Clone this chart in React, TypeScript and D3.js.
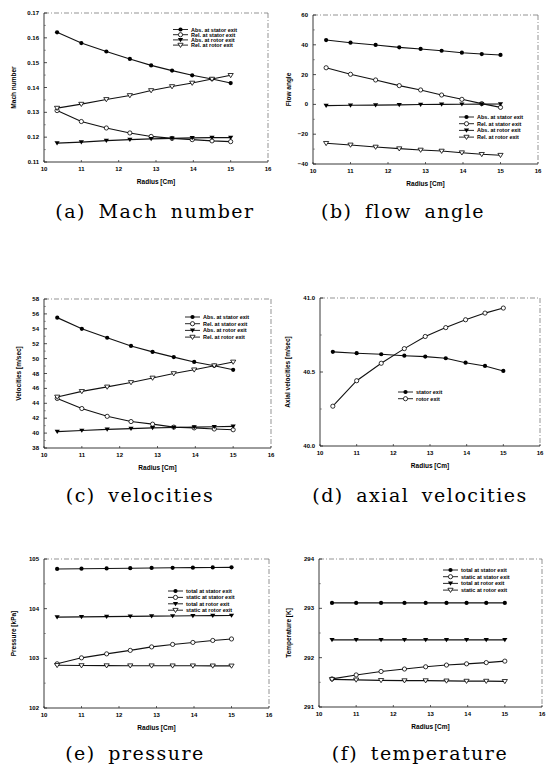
import React from 'react';
import * as d3 from 'd3';

// radial stations (same for every panel)
const radius = [10.35, 11.0, 11.67, 12.3, 12.87, 13.43, 13.97, 14.5, 15.0];
const radiusTicks = [10, 11, 12, 13, 14, 15, 16];

// (a) Mach number
const machAbsStator = [0.1622, 0.1579, 0.1545, 0.1515, 0.1489, 0.1468, 0.1449, 0.1434, 0.1418];
const machRelStator = [0.1307, 0.1263, 0.1237, 0.1217, 0.1203, 0.1195, 0.119, 0.1185, 0.1182];
const machAbsRotor = [0.1176, 0.118, 0.1186, 0.119, 0.1193, 0.1195, 0.1197, 0.1198, 0.1198];
const machRelRotor = [0.1317, 0.1333, 0.1352, 0.1368, 0.1388, 0.1404, 0.1418, 0.1434, 0.1449];

// (b) flow angle
const angleAbsStator = [43.2, 41.4, 39.9, 38.3, 37.2, 36.0, 34.7, 33.8, 33.2];
const angleRelStator = [24.6, 20.2, 16.4, 12.6, 9.7, 6.3, 3.4, 0.5, -2.0];
const angleAbsRotor = [-0.8, -0.6, -0.5, -0.3, -0.1, 0.0, 0.1, 0.2, 0.3];
const angleRelRotor = [-26.1, -27.2, -28.6, -29.7, -30.6, -31.3, -32.4, -33.5, -34.1];

// (c) velocities
const velAbsStator = [55.5, 54.0, 52.8, 51.7, 50.9, 50.2, 49.55, 49.05, 48.5];
const velRelStator = [44.65, 43.3, 42.25, 41.55, 41.2, 40.8, 40.7, 40.55, 40.45];
const velAbsRotor = [40.2, 40.35, 40.5, 40.6, 40.7, 40.75, 40.8, 40.85, 40.9];
const velRelRotor = [44.85, 45.6, 46.2, 46.8, 47.4, 48.0, 48.5, 49.05, 49.55];

// (d) axial velocities
const axialStator = [40.636, 40.627, 40.62, 40.61, 40.604, 40.593, 40.563, 40.541, 40.507];
const axialRotor = [40.269, 40.441, 40.559, 40.658, 40.74, 40.8, 40.853, 40.898, 40.932];

// (e) pressure
const presTotStator = [104.8, 104.805, 104.81, 104.815, 104.82, 104.823, 104.826, 104.83, 104.832];
const presStatStator = [102.89, 103.01, 103.09, 103.16, 103.23, 103.28, 103.32, 103.36, 103.39];
const presTotRotor = [103.83, 103.835, 103.84, 103.845, 103.85, 103.853, 103.856, 103.86, 103.862];
const presStatRotor = [102.86, 102.855, 102.853, 102.852, 102.851, 102.85, 102.85, 102.849, 102.848];

// (f) temperature
const tempTotStator = [293.11, 293.11, 293.11, 293.11, 293.11, 293.11, 293.11, 293.11, 293.11];
const tempStatStator = [291.57, 291.65, 291.72, 291.77, 291.815, 291.85, 291.875, 291.9, 291.93];
const tempTotRotor = [292.36, 292.36, 292.36, 292.36, 292.36, 292.36, 292.36, 292.36, 292.36];
const tempStatRotor = [291.56, 291.55, 291.54, 291.535, 291.535, 291.53, 291.525, 291.525, 291.52];

const velNames = ['Abs. at stator exit', 'Rel. at stator exit', 'Abs. at rotor exit', 'Rel. at rotor exit'];
const thermoNames = ['total at stator exit', 'static at stator exit', 'total at rotor exit', 'static at rotor exit'];
const axialNames = ['stator exit', 'rotor exit'];

type Marker = 'dot' | 'circle' | 'tri' | 'otri';
const markers: Marker[] = ['dot', 'circle', 'tri', 'otri'];
const axialMarkers: Marker[] = ['dot', 'circle'];

interface PanelProps {
  box: { left: number; right: number; top: number; bottom: number };
  yDomain: [number, number];
  yStep: number;
  yFmt: string;
  yLabel: string;
  yLabelX: number;
  series: number[][];
  names: string[];
  marks: Marker[];
  legend: { x: number; y: number; gap: number };
  caption: string;
  captionX: number;
  captionY: number;
}

const sans = 'Liberation Sans, Arial, sans-serif';

const Mark: React.FC<{ kind: Marker; x: number; y: number }> = ({ kind, x, y }) => {
  if (kind === 'dot') return <circle cx={x} cy={y} r={2.1} fill="#000" />;
  if (kind === 'circle') return <circle cx={x} cy={y} r={2.1} fill="#fff" stroke="#000" strokeWidth={0.8} />;
  const s = 2.6;
  const d = `M${x - s},${y - s * 0.7}L${x + s},${y - s * 0.7}L${x},${y + s * 0.9}Z`;
  return kind === 'tri'
    ? <path d={d} fill="#000" />
    : <path d={d} fill="#fff" stroke="#000" strokeWidth={0.8} />;
};

const Panel: React.FC<PanelProps> = (p) => {
  const { box } = p;
  const x = d3.scaleLinear().domain([10, 16]).range([box.left, box.right]);
  const y = d3.scaleLinear().domain(p.yDomain).range([box.bottom, box.top]);
  const yTicks = d3.range(p.yDomain[0], p.yDomain[1] + p.yStep / 2, p.yStep);
  const yMinor = d3.range(p.yDomain[0] + p.yStep / 2, p.yDomain[1], p.yStep);
  const fmt = d3.format(p.yFmt);
  const line = d3.line<[number, number]>().x(d => x(d[0])).y(d => y(d[1]));
  const midY = (box.top + box.bottom) / 2;

  return (
    <g>
      {/* frame: solid left/bottom, broken top/right like the scan */}
      <line x1={box.left} x2={box.right} y1={box.top} y2={box.top} stroke="#666" strokeWidth={0.7} strokeDasharray="5 2 1 2" />
      <line x1={box.right} x2={box.right} y1={box.top} y2={box.bottom} stroke="#666" strokeWidth={0.7} strokeDasharray="5 2 1 2" />
      <line x1={box.left} x2={box.right} y1={box.bottom} y2={box.bottom} stroke="#222" strokeWidth={0.9} />
      <line x1={box.left} x2={box.left} y1={box.top} y2={box.bottom} stroke="#222" strokeWidth={0.9} />

      {yTicks.map(t => (
        <g key={'y' + t}>
          <line x1={box.left} x2={box.left + 3} y1={y(t)} y2={y(t)} stroke="#222" strokeWidth={0.8} />
          <text x={box.left - 5} y={y(t) + 2} textAnchor="end" fontSize={6} fontWeight="bold" fontFamily={sans}>{fmt(t)}</text>
        </g>
      ))}
      {yMinor.map(t => (
        <line key={'m' + t} x1={box.left} x2={box.left + 1.8} y1={y(t)} y2={y(t)} stroke="#444" strokeWidth={0.6} />
      ))}
      {radiusTicks.map(t => (
        <g key={'x' + t}>
          <line x1={x(t)} x2={x(t)} y1={box.bottom} y2={box.bottom - 2} stroke="#222" strokeWidth={0.7} />
          <text x={x(t)} y={box.bottom + 9} textAnchor="middle" fontSize={6} fontWeight="bold" fontFamily={sans}>{t}</text>
        </g>
      ))}
      <text x={(box.left + box.right) / 2} y={box.bottom + 22} textAnchor="middle" fontSize={6.5} fontWeight="bold" fontFamily={sans}>Radius [Cm]</text>
      <text transform={`translate(${p.yLabelX},${midY}) rotate(-90)`} textAnchor="middle" fontSize={6.5} fontWeight="bold" fontFamily={sans}>{p.yLabel}</text>

      {p.series.map((s, i) => {
        const pts = s.map((v, j) => [radius[j], v] as [number, number]);
        return (
          <g key={'s' + i}>
            <path d={line(pts) || ''} fill="none" stroke="#111" strokeWidth={1.1} />
            {pts.map((d, j) => <Mark key={j} kind={p.marks[i]} x={x(d[0])} y={y(d[1])} />)}
          </g>
        );
      })}

      {p.names.map((n, i) => {
        const ly = p.legend.y + i * p.legend.gap;
        return (
          <g key={'l' + i}>
            <line x1={p.legend.x} x2={p.legend.x + 15} y1={ly} y2={ly} stroke="#111" strokeWidth={0.9} />
            <Mark kind={p.marks[i]} x={p.legend.x + 7.5} y={ly} />
            <text x={p.legend.x + 18} y={ly + 2} fontSize={5.5} fontWeight="bold" fontFamily={sans}>{n}</text>
          </g>
        );
      })}

      <text x={p.captionX} y={p.captionY} textAnchor="middle" fontSize={19} fontFamily="DejaVu Serif, serif" letterSpacing={1.5} wordSpacing={5}>{p.caption}</text>
    </g>
  );
};

export default function App() {
  return (
    <svg width={551} height={774} style={{ position: 'absolute', left: 0, top: 0, background: '#fff' }}>
      <rect width={551} height={774} fill="#fff" />
      <Panel box={{ left: 44, right: 268, top: 13, bottom: 162 }} yDomain={[0.11, 0.17]} yStep={0.01} yFmt=".2f"
        yLabel="Mach number" yLabelX={16} series={[machAbsStator, machRelStator, machAbsRotor, machRelRotor]}
        names={velNames} marks={markers} legend={{ x: 173, y: 29.5, gap: 5.2 }}
        caption="(a) Mach number" captionX={155} captionY={218} />
      <Panel box={{ left: 313, right: 538, top: 15, bottom: 164 }} yDomain={[-40, 60]} yStep={20} yFmt="d"
        yLabel="Flow angle" yLabelX={291} series={[angleAbsStator, angleRelStator, angleAbsRotor, angleRelRotor]}
        names={velNames} marks={markers} legend={{ x: 459, y: 117, gap: 6.7 }}
        caption="(b) flow angle" captionX={403} captionY={218} />
      <Panel box={{ left: 44, right: 271, top: 299, bottom: 448 }} yDomain={[38, 58]} yStep={2} yFmt="d"
        yLabel="Velocities [m/sec]" yLabelX={21} series={[velAbsStator, velRelStator, velAbsRotor, velRelRotor]}
        names={velNames} marks={markers} legend={{ x: 185, y: 317, gap: 6.7 }}
        caption="(c) velocities" captionX={140} captionY={502} />
      <Panel box={{ left: 320, right: 540, top: 298, bottom: 446 }} yDomain={[40, 41]} yStep={0.5} yFmt=".1f"
        yLabel="Axial velocities [m/sec]" yLabelX={290} series={[axialStator, axialRotor]}
        names={axialNames} marks={axialMarkers} legend={{ x: 398, y: 392, gap: 6.7 }}
        caption="(d) axial velocities" captionX={420} captionY={502} />
      <Panel box={{ left: 44, right: 269, top: 559, bottom: 708 }} yDomain={[102, 105]} yStep={1} yFmt="d"
        yLabel="Pressure [kPa]" yLabelX={16} series={[presTotStator, presStatStator, presTotRotor, presStatRotor]}
        names={thermoNames} marks={markers} legend={{ x: 168, y: 591, gap: 6.4 }}
        caption="(e) pressure" captionX={135} captionY={760} />
      <Panel box={{ left: 319, right: 542, top: 559, bottom: 707 }} yDomain={[291, 294]} yStep={1} yFmt="d"
        yLabel="Temperature [K]" yLabelX={291} series={[tempTotStator, tempStatStator, tempTotRotor, tempStatRotor]}
        names={thermoNames} marks={markers} legend={{ x: 443, y: 570, gap: 6.7 }}
        caption="(f) temperature" captionX={420} captionY={760} />
    </svg>
  );
}
